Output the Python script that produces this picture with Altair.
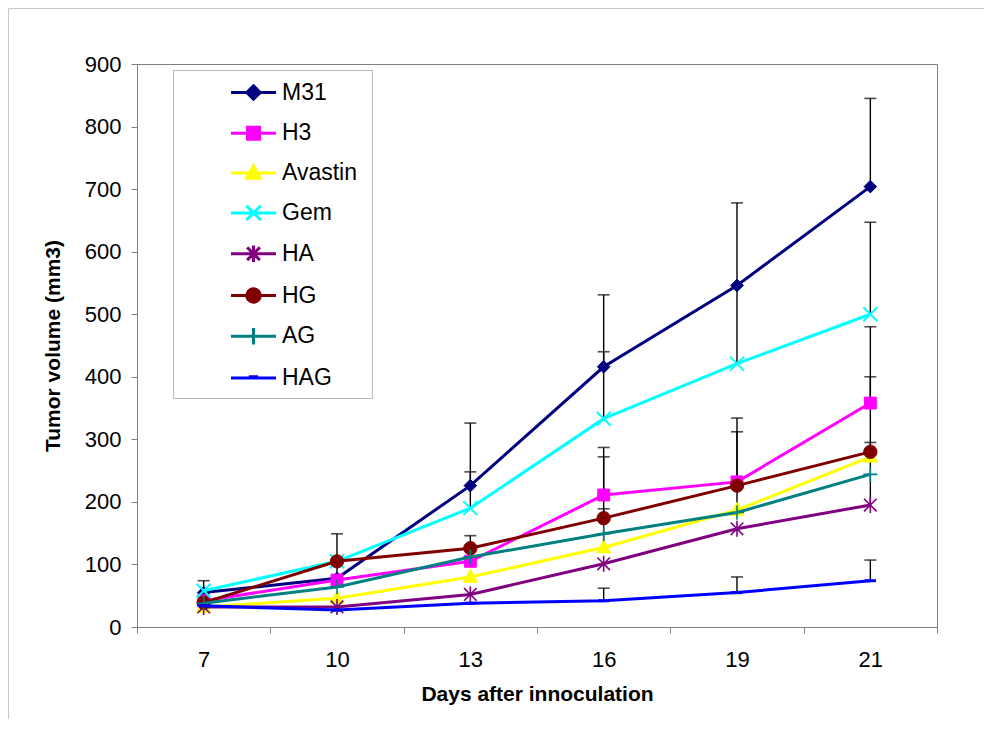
import altair as alt
import pandas as pd

# ---------------- data ----------------
days = ["7", "10", "13", "16", "19", "21"]
series = ["M31", "H3", "Avastin", "Gem", "HA", "HG", "AG", "HAG"]
colors = ["#000080", "#FF00FF", "#FFFF00", "#00FFFF", "#800080", "#800000", "#008080", "#0000FF"]

m31 = [55, 78, 226, 416, 546, 704]
h3 = [42, 75, 105, 211, 232, 358]
avastin = [32, 46, 80, 127, 187, 272]
gem = [58, 105, 190, 333, 421, 500]
ha = [32, 32, 52, 101, 157, 195]
hg = [39, 105, 126, 174, 226, 280]
ag = [38, 64, 112, 149, 183, 244]
hag = [34, 27, 38, 42, 55, 74]

# upper ends of the (upper-only) error bars; None = no bar drawn
m31_top = [74, 149, 326, 531, 678, 845]
h3_top = [None, None, 146, 287, 334, 480]
avastin_top = [None, None, None, 189, 312, None]
gem_top = [None, None, 248, 440, 546, 647]
ha_top = [None, None, None, None, None, 295]
hg_top = [None, None, None, 272, None, 400]
ag_top = [None, None, None, None, None, None]
hag_top = [None, None, None, 62, 80, 107]

values = {"M31": m31, "H3": h3, "Avastin": avastin, "Gem": gem,
          "HA": ha, "HG": hg, "AG": ag, "HAG": hag}
tops = {"M31": m31_top, "H3": h3_top, "Avastin": avastin_top, "Gem": gem_top,
        "HA": ha_top, "HG": hg_top, "AG": ag_top, "HAG": hag_top}

rows = []
for s in series:
    for d, v, t in zip(days, values[s], tops[s]):
        rows.append({"series": s, "day": d, "value": v, "top": t})
df = pd.DataFrame(rows)

# ---------------- styles ----------------
FONT = "Liberation Sans"
marker_paths = {
    "M31": ("M0,-0.9L0.9,0L0,0.9L-0.9,0Z", 1.0),
    "H3": ("M-0.85,-0.85L0.85,-0.85L0.85,0.85L-0.85,0.85Z", 1.0),
    "Avastin": ("M0,-1.1L1,0.75L-1,0.75Z", 1.0),
    "Gem": ("M-1,-1L1,1M-1,1L1,-1", 2.0),
    "HA": ("M-0.9,-0.9L0.9,0.9M-0.9,0.9L0.9,-0.9M0,-1.15L0,1.15", 1.6),
    "HG": ("M-0.95,0A0.95,0.95 0 1,0 0.95,0A0.95,0.95 0 1,0 -0.95,0Z", 1.0),
    "AG": ("M-1,0L1,0M0,-1.05L0,1.05", 1.6),
    "HAG": ("M-0.8,0L0.8,0", 3.0),
}
legend_paths = [
    "M-1.2,0L1.2,0M0,-0.36L0.36,0L0,0.36L-0.36,0Z",
    "M-1.2,0L1.2,0M-0.32,-0.32L0.32,-0.32L0.32,0.32L-0.32,0.32Z",
    "M-1.2,0L1.2,0M0,-0.4L0.36,0.27L-0.36,0.27Z",
    "M-1.2,0L1.2,0M-0.38,-0.38L0.38,0.38M-0.38,0.38L0.38,-0.38",
    "M-1.2,0L1.2,0M-0.34,-0.34L0.34,0.34M-0.34,0.34L0.34,-0.34M0,-0.44L0,0.44",
    "M-1.2,0L1.2,0M-0.36,0A0.36,0.36 0 1,0 0.36,0A0.36,0.36 0 1,0 -0.36,0Z",
    "M-1.2,0L1.2,0M0,-0.44L0,0.44",
    "M-1.2,0L1.2,0M-0.25,-0.07L0.25,-0.07",
]

x_enc = alt.X(
    "day:O", sort=days,
    scale=alt.Scale(type="band", domain=days, paddingInner=0, paddingOuter=0),
    axis=alt.Axis(title="Days after innoculation", labelAngle=0, tickBand="extent",
                  tickSize=6, labelPadding=16, titlePadding=13.5,
                  domainColor="#808080", tickColor="#808080"),
)
y_enc = alt.Y(
    "value:Q",
    scale=alt.Scale(domain=[0, 900], nice=False),
    axis=alt.Axis(title="Tumor volume (mm3)", values=list(range(0, 1000, 100)),
                  tickSize=6, labelPadding=10, titlePadding=21, grid=False,
                  domainColor="#808080", tickColor="#808080"),
)

layers = []

# outer chart frame (decoration)
layers.append(
    alt.Chart(pd.DataFrame({"k": [0]})).mark_rect(fill="transparent", stroke="#c8c8c8", strokeWidth=1)
    .encode(x=alt.value(-128.5), x2=alt.value(1000), y=alt.value(-55.5), y2=alt.value(1000))
)

err = df[df["top"].notna()]
base_err = alt.Chart(err)
layers.append(base_err.mark_rule(color="black", strokeWidth=1.4).encode(
    x=x_enc, y=y_enc, y2="top:Q"))
layers.append(base_err.mark_tick(color="black", thickness=1.6, size=12).encode(
    x=x_enc, y=alt.Y("top:Q")))

for s, c in zip(series, colors):
    ds = df[df["series"] == s]
    path, sw = marker_paths[s]
    layers.append(alt.Chart(ds).mark_line(color=c, strokeWidth=3).encode(x=x_enc, y=y_enc))
    layers.append(alt.Chart(ds).mark_point(shape=path, size=196, filled=True, fill=c, stroke=c,
                                           strokeWidth=sw, opacity=1).encode(x=x_enc, y=y_enc))

# legend box (decoration)
layers.append(
    alt.Chart(pd.DataFrame({"k": [0]})).mark_rect(fill="white", stroke="#b8b8b8", strokeWidth=1)
    .encode(x=alt.value(36.5), x2=alt.value(235.5), y=alt.value(6.5), y2=alt.value(334.5))
)

leg = alt.Legend(title=None, orient="none", legendX=96, legendY=8, symbolSize=1406,
                 symbolStrokeWidth=3, labelFontSize=23, labelFont=FONT, labelColor="black",
                 rowPadding=6.8, labelOffset=8, padding=0, symbolOpacity=1)
leg_df = pd.DataFrame({"series": series})
layers.append(
    alt.Chart(leg_df).mark_point(filled=True, strokeWidth=3, opacity=1).encode(
        x=alt.value(-3000), y=alt.value(-3000),
        color=alt.Color("series:N", sort=series, scale=alt.Scale(domain=series, range=colors), legend=leg),
        stroke=alt.Stroke("series:N", sort=series, scale=alt.Scale(domain=series, range=colors), legend=leg),
        shape=alt.Shape("series:N", sort=series, scale=alt.Scale(domain=series, range=legend_paths), legend=leg),
    )
)

chart = (
    alt.layer(*layers)
    .properties(width=800, height=563, autosize=alt.AutoSizeParams(type="none"),
                padding={"left": 129, "top": 56, "right": 47, "bottom": 92},
                background="white")
    .configure_view(stroke="#808080", strokeWidth=1, fill="white")
    .configure_axis(labelFont=FONT, titleFont=FONT, labelFontSize=22, titleFontSize=21,
                    titleFontWeight="bold", labelColor="black", titleColor="black")
)

chart.save("out.html", embed_options={"renderer": "svg", "actions": False})
